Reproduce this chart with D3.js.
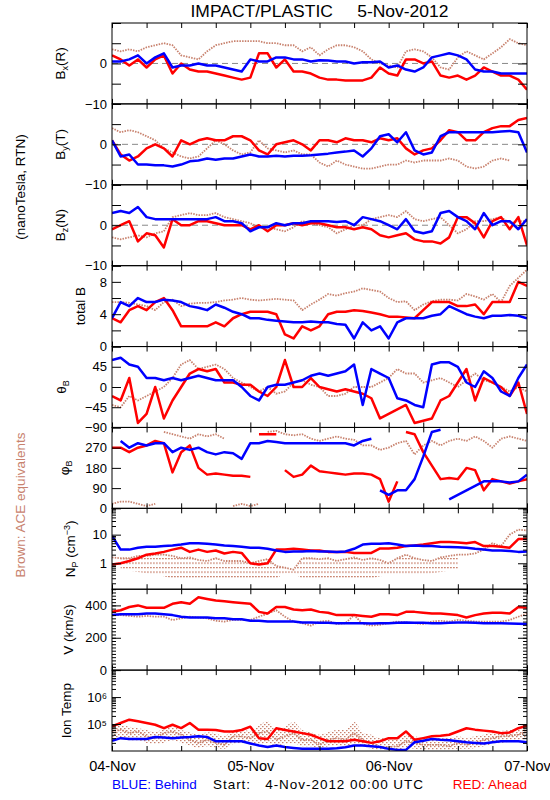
<!DOCTYPE html>
<html><head><meta charset="utf-8">
<script src="https://cdn.jsdelivr.net/npm/d3@7"></script>
<style>body{margin:0;background:#fff}svg{display:block}text{font-family:"Liberation Sans",Arial,sans-serif}</style>
</head><body><svg id="c" width="550" height="800"></svg>
<script>
// sample times (hours since 04-Nov-2012 00:00 UTC)
const hours = d3.range(0, 72.01, 1.5);
const dayLabels = ["04-Nov","05-Nov","06-Nov","07-Nov"];

// Bx (R)
const bxAce    = [3.5,3,3.5,3,4,4.5,5,4.5,2,1.5,1,3,4.5,5,5.5,5.5,5.5,5.5,5,5,4.5,4.5,3,4,2,3.5,4.5,4.5,4,3,1,0,-0.5,-1,3,3.5,3,1.5,-1,-1.5,1.5,3,2,1,2.5,4,6,5,4.5];
const bxAhead  = [2,1,-0.5,1,-1,1,2,-2.5,0,-1.5,-2,-2,-2.5,-3,-3.5,-4,-3.5,2.5,2.5,-1,1,-2,-2,-2.5,-3.5,-4,-4,-4.2,-4.2,-4.2,-3.5,-1,-2.5,-3,1,1,0,0.5,-3,-3.5,-3,-4,-3,-1,-2,-3,-3,-4,-6.5];
const bxBehind = [0.5,0.5,1,2,0,1.5,2.5,-1,-0.5,-0.5,0,-0.5,-0.5,-1,-1.5,-2,1,0.5,0.5,1.5,1.5,1,1,0.5,0.8,0.7,0.5,0.5,0,0.3,0.3,0.5,-1,-0.5,-1.5,-2,-1,1.5,2,2.5,2,1,-1.5,-2,-2,-2.5,-2.5,-2.5,-2.5];
// By (T)
const byAce    = [4,3,3.5,3,2,1,-1,-2,-3,-3.5,-3,-1,1,0,-1.5,-2.5,-2,1,-1,-1.5,-2,-1.5,-2.5,-2.5,-4.5,-5.5,-4,-5,-5.5,-6,-6,-5.5,-5,-5,-4,-4.5,-4,-4,-4,-3.5,-4,-5.5,-6,-5.5,-4,-3.5,-4,null,-7];
const byAhead  = [1,-2.5,-4,-3,-1,0,-1,-3,1,0,1,1.5,1,1,2,2,1,-1.5,-2.5,0,0.5,1,0,-1.5,1,1,0.5,1.5,1,1,0.5,1.5,1,1.5,-1,-2.5,-1.5,-1,1,3.5,3,1,1,3,4,4.5,4.5,6,6.5];
const byBehind = [1,-3,-2.5,-5,-5,-5.2,-5.2,-5.5,-5,-4.2,-4,-3.5,-3.8,-3.5,-3.5,-3,-2.5,-3,-3,-2.8,-3,-2.8,-2.8,-2.7,-2.5,-2.3,-2,-1.8,-1.5,-3,-1,2,2.5,0.5,3,-1.5,-2.5,-2,2,3,3,3,3,3,3,3.2,3.3,3,-2];
// Bz (N)
const bzAce    = [-3,-3.5,-3,-2.5,-3,-2,-1.5,2,2.5,3,2.5,2.5,3,2,1.5,1,0.5,-0.5,-0.5,-1,-1.5,-0.5,1,0.5,0,-0.5,-2,-1,0,0,1.5,2,2.5,2,3.5,1.5,1,1.5,2,0,-2,-1,1,1,1.5,2,0.5,1,1];
const bzAhead  = [-1,0,1,-4,-2,-2.5,-5.5,1.5,0,0,1,1,0.5,0,0,0,-1,0,-1.5,0,0,0.5,0,0.5,0.5,0,-0.5,-0.5,-1,-0.5,-1,-2.5,-3,-2.5,-2,-3.5,-4,-4,-4.5,-3,2,2,0.5,-3,1,2,-1,2,-5];
const bzBehind = [3,3.5,3,4.5,2,1.5,1.5,1.5,1.5,1.5,1.5,1.5,2,1,1,0.5,-1.5,-0.5,-0.5,0.5,0,0.5,0.5,1,1,1,0.8,1,0,2,1.5,1,0,-1,1.5,-1.5,-2,-1.5,3,3.5,2,1,-1,3,0,1,1,-1,1.5];
// total B
const btAce    = [5.5,5.5,5.4,5.2,5,4.5,5.5,5.8,5,5.3,5.4,5.4,5.5,5.7,5.8,6,5.8,5.7,5.8,5.9,5.8,5.7,4.5,5.2,5.8,6.5,6.3,6.6,6.8,7.2,7,6.8,6,5.5,5.6,4.5,5.2,5.6,5.8,5.8,5.7,6.5,6.2,5.8,6.5,5.5,7.5,8.5,9.5];
const btAhead  = [3.5,3,4.5,5,4.5,5.5,6,4.5,2.5,2.5,2.5,2.5,3,2.5,3.5,4,4.3,4.3,4.3,4,1.5,1,2.5,2,2.5,4,4.3,4.3,4.5,4.4,4.2,4,3.7,3.7,3.6,3.5,4.5,5.5,5.5,5.5,5,5,5.2,4,5.5,5.5,5.5,8,7.5];
const btBehind = [3.5,5.5,5,6,5.5,5.5,5.8,5.7,5.5,5,4.8,4.5,5.2,4.8,4.3,4,3.5,3.5,3.3,3.2,3.1,3,3,3.1,3,3,2.8,2.7,1,3,2,2.5,1,3,3.5,3.5,3.5,3.8,4,5,4.5,4,3.7,3.5,3.8,3.8,3.9,3.8,3.5];
// theta B
const thAce    = [-40,-45,-20,-30,-20,-10,0,20,50,60,40,45,50,40,20,10,0,-10,0,-15,-10,10,15,5,0,-20,-20,-15,0,0,0,10,20,40,30,30,10,15,20,10,0,15,30,15,10,0,-10,0,-10];
const thAhead  = [-20,-30,20,-80,-60,0,-70,-30,0,30,40,35,40,10,10,5,5,-10,-20,0,60,0,0,20,0,-5,-10,-5,-10,-15,-25,-70,-60,-50,-40,-80,-75,-70,-30,-20,10,40,-30,20,10,0,-20,10,-60];
const thBehind = [60,65,50,45,20,20,15,20,15,20,25,20,15,15,15,0,-20,-30,0,5,5,10,15,25,30,25,30,35,50,-40,40,30,20,-25,-30,-40,-45,50,55,55,45,10,0,35,20,-10,-20,20,50];
// phi B
const phAce    = [20,30,30,20,10,20,340,330,320,310,330,320,330,310,10,20,10,20,340,345,330,325,330,310,300,310,320,310,305,280,280,260,270,290,300,240,280,300,280,300,310,300,320,300,270,310,320,310,300];
const phAhead  = [270,270,250,270,280,300,290,160,250,280,180,150,155,150,145,145,140,330,330,330,170,140,150,190,165,160,155,150,155,155,150,130,30,120,340,330,250,190,130,135,130,180,170,80,130,120,110,120,130];
const phBehind = [50,300,270,290,280,290,290,250,270,260,270,250,240,250,245,220,290,290,300,295,290,290,290,290,290,290,290,290,280,300,310,80,60,80,80,130,230,340,350,40,60,80,100,120,120,120,115,120,150];
// N_P (cm^-3)
const npAce    = [1.6,1.5,1.5,1.8,1.8,2.0,2.0,1.8,1.5,1.6,1.3,1.2,1.5,1.2,1.2,1.2,1.0,1.2,1.4,0.8,0.7,0.6,1.5,1.5,1.4,1.5,1.2,1.4,1.6,1.3,1.5,1.3,1.0,1.5,2.0,1.5,1.3,1.2,1.6,1.8,2.0,2.0,2.2,3.0,5.0,4,10,15,14];
const npAceLow = [null,0.6,0.55,0.5,0.45,0.4,0.35,0.3,0.3,0.3,0.3,0.3,0.3,0.3,0.3,0.3,0.3,0.3,0.3,0.3,0.45,0.45,0.3,0.3,0.3,0.3,0.3,0.3,0.3,0.3,0.3,0.35,0.4,0.4,0.4,0.4,0.4,0.45,0.5,0.55,0.6,null,null,null,null,null,null,null,null];
const npAhead  = [0.9,1.0,1.2,1.5,2.0,2.2,2.5,3,3.5,2.5,3,2.5,2.8,2.2,2.5,2.3,1.0,0.9,1.0,3,3,3.2,3,2.8,2.8,2.5,2.5,2.5,2.3,2.3,2.3,3.3,3.3,3.5,4,4.2,4.5,5,5.5,5.5,5.3,5,5.5,4,4,3.8,3.5,7,7];
const npBehind = [9,3,3,3.5,3.8,3.8,4,4.2,4.5,5,5,4.8,4.5,4.2,4,3.8,3.5,3.5,3.2,2.8,2.5,2.6,2.6,2.7,2.6,2.6,2.5,2.6,3.2,4.5,4.8,4.8,5,4.5,4,4.2,4,4,3.8,3.7,3.6,3.5,3.2,3,2.8,2.8,2.7,2.5,2.6];
// V (km/s)
const vAce     = [340,340,335,330,335,330,330,310,320,330,325,320,305,300,310,310,310,330,350,370,330,300,290,275,300,305,285,290,340,285,275,280,290,300,295,290,285,300,305,300,310,305,300,300,300,300,310,330,350];
const vAhead   = [360,370,390,400,385,385,385,410,420,410,450,440,430,425,420,415,410,360,350,390,390,375,370,375,360,355,340,340,340,335,330,345,345,340,360,360,355,350,350,345,340,325,340,350,355,355,350,390,385];
const vBehind  = [340,345,345,345,350,350,345,340,330,325,325,325,320,320,315,315,305,305,300,300,300,300,295,295,293,292,290,290,290,290,288,290,290,292,295,293,292,290,290,292,295,295,293,290,290,290,288,287,285];
// Ion temperature (K)
const tAce     = [5.3e4,6.2e4,4.6e4,5.3e4,3.5e4,3e4,4.6e4,5.3e4,4e4,2.6e4,2e4,2.6e4,2e4,1.7e4,3.5e4,3.5e4,3e4,4.6e4,5.3e4,2.6e4,3.5e4,4.6e4,2.6e4,2.6e4,1.7e4,2.6e4,3e4,2.6e4,4.6e4,2.6e4,2e4,1.4e4,1.4e4,1.5e4,2.3e4,2e4,1.7e4,1.7e4,1.7e4,1.5e4,2e4,1.7e4,2e4,2.6e4,3e4,3.5e4,3.7e4,4e4,5.3e4];
const tAceLow  = [3e4,3e4,2.5e4,2.5e4,2e4,1.8e4,2e4,2.5e4,2e4,1.6e4,1.3e4,1.5e4,1.3e4,1.2e4,1.8e4,2e4,1.8e4,1.8e4,2e4,1.6e4,1.8e4,2e4,1.5e4,1.5e4,1.2e4,1.5e4,1.6e4,1.5e4,1.8e4,1.5e4,1.2e4,1.1e4,1.1e4,1.1e4,1.3e4,1.2e4,1.1e4,1.1e4,1.1e4,1.1e4,1.2e4,1.2e4,1.3e4,1.5e4,1.8e4,2e4,2.2e4,2.5e4,3e4];
const tAceHigh = [8e4,9e4,8e4,7e4,6e4,5e4,7e4,8e4,6e4,5e4,4e4,5e4,4.5e4,3.5e4,6e4,6e4,5.5e4,9e4,1.3e5,6e4,8e4,1.2e5,6e4,5e4,4e4,5e4,6e4,6e4,1.2e5,5e4,4e4,3e4,3e4,3e4,4e4,3.5e4,3e4,3e4,3e4,3e4,3.5e4,3e4,3.5e4,4e4,5e4,5.5e4,6e4,6e4,8e4];
const tAhead   = [8.2e4,1.09e5,1.45e5,1.26e5,1.09e5,9.4e4,7e4,9.4e4,7.1e4,1.09e5,6.2e4,6.2e4,6e4,5.3e4,5.3e4,6e4,8e4,3e4,2.8e4,7e4,6e4,5.3e4,4.6e4,4e4,3e4,2.3e4,2.3e4,2.3e4,2.6e4,2.3e4,2e4,2.3e4,3e4,3e4,5.3e4,2.6e4,3e4,3.5e4,3.7e4,4e4,5.3e4,7e4,6.2e4,5.7e4,5.3e4,4.6e4,4.9e4,7e4,8.7e4];
const tBehind  = [2.4e4,3e4,2.8e4,2.8e4,2.8e4,3.3e4,3.2e4,3e4,3.2e4,3.3e4,3.5e4,3.3e4,2.3e4,2.3e4,2.3e4,2.3e4,1.9e4,1.6e4,1.4e4,1.6e4,1.4e4,1.3e4,1.2e4,1.2e4,1.2e4,1.2e4,1.26e4,1.37e4,1.6e4,1.6e4,1.5e4,1.4e4,1.2e4,1.1e4,1.1e4,2.1e4,2.4e4,2.8e4,2.6e4,2.5e4,2.3e4,2.1e4,2e4,1.9e4,2.1e4,2.3e4,2.3e4,2.3e4,2.1e4];

const RED = "#ff0000", BLUE = "#0000ff", BROWN = "#c8826e";
const L = 112, R = 527, TOP = 23, BOT = 751, NP = 9;
const PH = (BOT - TOP) / NP;
const svg = d3.select("#c");
const x = d3.scaleLinear().domain([0, 72]).range([L, R]);
const defs = svg.append("defs");
// dotted textures for the ACE scatter clouds
const patRows = defs.append("pattern").attr("id", "rows").attr("patternUnits", "userSpaceOnUse").attr("width", 3).attr("height", 4.5);
patRows.append("rect").attr("width", 1.8).attr("height", 1.2).attr("fill", BROWN);
const patCloud = defs.append("pattern").attr("id", "cloud").attr("patternUnits", "userSpaceOnUse").attr("width", 4).attr("height", 4);
patCloud.append("rect").attr("width", 1.5).attr("height", 1.2).attr("fill", BROWN);
patCloud.append("rect").attr("x", 2).attr("y", 2).attr("width", 1.5).attr("height", 1.2).attr("fill", BROWN);

const panels = [
  {lab:[["B",""],["x","sub"],["(R)",""]], lx:65, dom:[-10,10], ticks:[-10,-5,0,5,10], labs:[-10,0], zero:true, s:[bxAce,bxAhead,bxBehind]},
  {lab:[["B",""],["y","sub"],["(T)",""]], lx:65, dom:[-10,10], ticks:[-10,-5,0,5,10], labs:[-10,0], zero:true, s:[byAce,byAhead,byBehind]},
  {lab:[["B",""],["z","sub"],["(N)",""]], lx:65, dom:[-10,10], ticks:[-10,-5,0,5,10], labs:[-10,0], zero:true, s:[bzAce,bzAhead,bzBehind]},
  {lab:[["total B",""]], lx:85, dom:[0,10], ticks:[0,2,4,6,8,10], labs:[0,4,8], s:[btAce,btAhead,btBehind]},
  {lab:[["θ",""],["B","sub"]], lx:66, dom:[-90,90], ticks:[-90,-45,0,45,90], labs:[-90,-45,0,45], s:[thAce,thAhead,thBehind]},
  {lab:[["φ",""],["B","sub"]], lx:69, dom:[0,360], ticks:[0,90,180,270,360], labs:[0,90,180,270], wrap:true, s:[phAce,phAhead,phBehind]},
  {lab:[["N",""],["P","sub"],[" (cm",""],["−3","sup"],[")",""]], lx:75, log:true, dom:[0.124,83], ticks:[1,10], minor:[0.2,0.3,0.4,0.5,0.6,0.7,0.8,0.9,2,3,4,5,6,7,8,9,20,30,40,50,60,70,80], labs:[1,10], band:[npAceLow,npAce,"rows"], s:[npAce,npAhead,npBehind]},
  {lab:[["V (km/s)",""]], lx:73, dom:[0,500], ticks:[0,200,400], minor:d3.range(0,501,20), labs:[0,200,400], s:[vAce,vAhead,vBehind]},
  {lab:[["Ion Temp",""]], lx:71, log:true, dom:[1e4,1e7], ticks:[1e5,1e6], minor:[2e4,3e4,4e4,5e4,6e4,7e4,8e4,9e4,2e5,3e5,4e5,5e5,6e5,7e5,8e5,9e5,2e6,3e6,4e6,5e6,6e6,7e6,8e6,9e6], labs:[1e5,1e6], sci:true, band:[tAceLow,tAceHigh,"cloud"], s:[tAce,tAhead,tBehind]}
];

const fmtSci = v => "10" + ({5:"⁵",6:"⁶"})[Math.round(Math.log10(v))];

panels.forEach((p, i) => {
  const y0 = TOP + i * PH, y1 = y0 + PH;
  const y = (p.log ? d3.scaleLog() : d3.scaleLinear()).domain(p.dom).range([y1, y0]);
  const g = svg.append("g");
  defs.append("clipPath").attr("id", "cp" + i).append("rect").attr("x", L).attr("y", y0).attr("width", R - L).attr("height", PH);

  if (p.zero) g.append("line").attr("x1", L).attr("x2", R).attr("y1", y(0)).attr("y2", y(0))
      .attr("stroke", "#888").attr("stroke-width", 1).attr("stroke-dasharray", "6,4");

  const dg = g.append("g").attr("clip-path", `url(#cp${i})`);
  if (p.band) {
    const [lo, hi, pid] = p.band;
    const area = d3.area().defined((h, j) => lo[j] != null && hi[j] != null)
      .x(h => x(h)).y0((h, j) => y(lo[j])).y1((h, j) => y(hi[j])).curve(d3.curveMonotoneX);
    dg.append("path").datum(hours).attr("d", area).attr("fill", `url(#${pid})`);
  }
  const cols = [BROWN, RED, BLUE];
  p.s.forEach((arr, k) => {
    const pts = hours.map((h, j) => [h, arr[j]]);
    const line = d3.line().defined(d => d[1] != null).x(d => x(d[0])).y(d => y(d[1]));
    const segs = [[]];
    pts.forEach((d, j) => {
      if (p.wrap && j > 0 && d[1] != null && pts[j-1][1] != null && Math.abs(d[1] - pts[j-1][1]) > 150) segs.push([]);
      segs[segs.length - 1].push(d);
    });
    segs.forEach(sg => {
      dg.append("path").datum(sg).attr("d", line).attr("fill", "none")
        .attr("stroke", cols[k]).attr("stroke-width", k === 0 ? 1.8 : 2.5)
        .attr("stroke-dasharray", k === 0 ? "1.5,1.2" : null)
        .attr("stroke-linejoin", "round");
    });
  });

  const fmt = v => p.labs.includes(v) ? (p.sci ? fmtSci(v) : String(v).replace("-", "−")) : "";
  const axL = d3.axisLeft(y).tickValues(p.ticks).tickSizeInner(-9).tickSizeOuter(0).tickPadding(5).tickFormat(fmt);
  const axR = d3.axisRight(y).tickValues(p.ticks).tickSizeInner(-9).tickSizeOuter(0).tickFormat("");
  g.append("g").attr("transform", `translate(${L},0)`).call(axL);
  g.append("g").attr("transform", `translate(${R},0)`).call(axR);
  if (p.minor) {
    g.append("g").attr("transform", `translate(${L},0)`).call(d3.axisLeft(y).tickValues(p.minor).tickSizeInner(-4).tickSizeOuter(0).tickFormat(""));
    g.append("g").attr("transform", `translate(${R},0)`).call(d3.axisRight(y).tickValues(p.minor).tickSizeInner(-4).tickSizeOuter(0).tickFormat(""));
  }
  const tv = d3.range(0, 73, 6);
  const axT = d3.axisTop(x).tickValues(tv).tickSizeInner(-5).tickSizeOuter(0).tickFormat("");
  const axB = d3.axisBottom(x).tickValues(tv).tickSizeInner(-5).tickSizeOuter(0)
      .tickPadding(10).tickFormat(h => (i === NP - 1 && h % 24 === 0) ? dayLabels[h / 24] : "");
  g.append("g").attr("transform", `translate(0,${y0})`).call(axT);
  g.append("g").attr("class", "xb").attr("transform", `translate(0,${y1})`).call(axB);

  g.selectAll(".domain").remove();
  g.selectAll(".tick line").attr("stroke", "#000");
  g.selectAll(".tick text").attr("font-size", 13).attr("fill", "#000");
  g.selectAll(".xb .tick text").attr("font-size", 14.5);
  g.append("rect").attr("x", L).attr("y", y0).attr("width", R - L).attr("height", PH)
    .attr("fill", "none").attr("stroke", "#000").attr("stroke-width", 1);

  const t = g.append("text").attr("transform", `translate(${p.lx},${(y0 + y1) / 2}) rotate(-90)`)
    .attr("text-anchor", "middle").attr("font-size", 13.5);
  p.lab.forEach(([s, k]) => {
    const ts = t.append("tspan").text(s);
    if (k === "sub") ts.attr("font-size", 9).attr("baseline-shift", "-30%");
    if (k === "sup") ts.attr("font-size", 9).attr("baseline-shift", "55%");
  });
});

svg.append("text").attr("x", (L + R) / 2).attr("y", 17).attr("text-anchor", "middle")
  .attr("font-size", 16).attr("xml:space", "preserve")
  .attr("textLength", 258).attr("lengthAdjust", "spacingAndGlyphs").text("IMPACT/PLASTIC     5-Nov-2012");
svg.append("text").attr("transform", "translate(25,187) rotate(-90)").attr("text-anchor", "middle")
  .attr("font-size", 13.5).text("(nanoTesla, RTN)");
svg.append("text").attr("transform", "translate(25,505) rotate(-90)").attr("text-anchor", "middle")
  .attr("font-size", 13.5).attr("fill", BROWN).text("Brown: ACE equivalents");
svg.append("text").attr("x", L).attr("y", 789).attr("font-size", 13.5).attr("fill", BLUE).text("BLUE: Behind");
svg.append("text").attr("x", 213).attr("y", 789).attr("font-size", 13.5).attr("xml:space", "preserve")
  .attr("textLength", 210).attr("lengthAdjust", "spacing").text("Start:   4-Nov-2012 00:00 UTC");
svg.append("text").attr("x", R).attr("y", 789).attr("text-anchor", "end").attr("font-size", 13.5).attr("fill", RED).text("RED: Ahead");
</script></body></html>
